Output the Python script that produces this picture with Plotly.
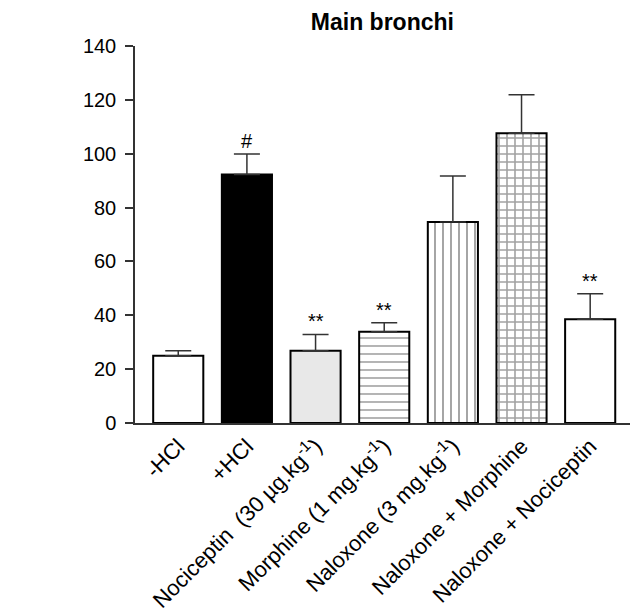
import plotly.graph_objects as go

categories = ["-HCl", "+HCl", "Nociceptin\u00a0\u00a0(30 \u00b5g.kg<sup>-1</sup>)",
              "Morphine (1 mg.kg<sup>-1</sup>)", "Naloxone (3 mg.kg<sup>-1</sup>)",
              "Naloxone + Morphine", "Naloxone + Nociceptin"]
means = [25.0, 92.3, 26.8, 33.9, 74.6, 107.6, 38.5]
err_top = [26.8, 99.9, 32.9, 37.2, 91.7, 121.9, 48.0]
sig_labels = ["", "#", "**", "**", "", "", "**"]

fill_colors = ["white", "black", "#e8e8e8", "white", "white", "white", "white"]
pattern_shapes = ["", "", "", "-", "|", "+", ""]
pattern_solidity = [0.15, 0.15, 0.15, 0.2, 0.24, 0.36, 0.15]

x = list(range(len(categories)))
plus = [t - m for t, m in zip(err_top, means)]

fig = go.Figure()
fig.add_trace(go.Bar(
    x=x, y=means,
    width=0.73,
    marker=dict(
        color=fill_colors,
        line=dict(color="black", width=2),
        pattern=dict(shape=pattern_shapes, size=8, solidity=pattern_solidity,
                     fgcolor="black", fillmode="overlay"),
    ),
    error_y=dict(type="data", symmetric=False, array=plus,
                 arrayminus=[0] * len(means), color="#333333",
                 thickness=1.5, width=13),
    showlegend=False,
    hoverinfo="skip",
))

for i, lab in enumerate(sig_labels):
    if lab:
        fig.add_annotation(x=i, y=err_top[i], text=lab, showarrow=False,
                           yanchor="bottom", yshift=0,
                           font=dict(size=20, color="black"))

fig.update_layout(
    width=630, height=615,
    margin=dict(l=135, r=0, t=46, b=192),
    plot_bgcolor="white", paper_bgcolor="white",
    font=dict(family="Arial, Liberation Sans, sans-serif", color="black", size=17),
    title=dict(text="<b>Main bronchi</b>", x=0.607, xanchor="center",
               y=1 - 22 / 615, yanchor="middle", font=dict(size=23)),
    bargap=0.27,
)
fig.update_xaxes(
    range=[-0.63, 6.58], tickmode="array", tickvals=x, ticktext=categories,
    tickangle=-45, showline=True, linecolor="#333333", linewidth=1.5,
    ticks="", showgrid=False, zeroline=False, tickfont=dict(size=22),
)
fig.update_yaxes(
    range=[0, 140], tickvals=[0, 20, 40, 60, 80, 100, 120, 140],
    showline=True, linecolor="#333333", linewidth=1.5, ticks="outside",
    ticklen=8, tickwidth=1.5, tickcolor="#333333", showgrid=False,
    zeroline=False, tickfont=dict(size=20), ticklabelstandoff=5,
)

fig.write_html("out.html", config={"displayModeBar": False},
               post_script="document.body.style.margin='0';")
